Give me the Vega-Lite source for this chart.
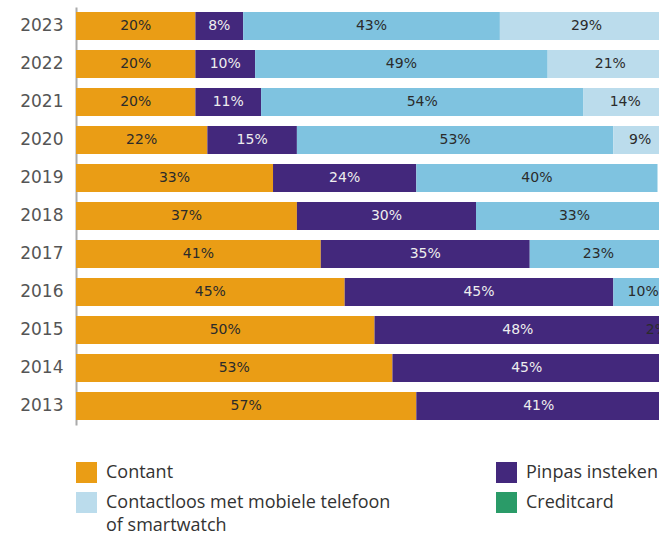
{
  "$schema": "https://vega.github.io/schema/vega-lite/v6.json",
  "width": 583,
  "height": 418,
  "autosize": {"type": "none"},
  "padding": {"left": 76, "top": 7, "right": 0, "bottom": 111},
  "background": "white",
  "config": {"view": {"stroke": null}, "style": {"guide-label": {"lineHeight": 23}}},
  "data": {
    "values": [
      {"jaar": "2023", "cat": "Contant", "pct": 20},
      {"jaar": "2023", "cat": "Pinpas insteken", "pct": 8},
      {"jaar": "2023", "cat": "Contactloos met pinpas", "pct": 43},
      {"jaar": "2023", "cat": "Contactloos met mobiele telefoon of smartwatch", "pct": 29},
      {"jaar": "2022", "cat": "Contant", "pct": 20},
      {"jaar": "2022", "cat": "Pinpas insteken", "pct": 10},
      {"jaar": "2022", "cat": "Contactloos met pinpas", "pct": 49},
      {"jaar": "2022", "cat": "Contactloos met mobiele telefoon of smartwatch", "pct": 21},
      {"jaar": "2021", "cat": "Contant", "pct": 20},
      {"jaar": "2021", "cat": "Pinpas insteken", "pct": 11},
      {"jaar": "2021", "cat": "Contactloos met pinpas", "pct": 54},
      {"jaar": "2021", "cat": "Contactloos met mobiele telefoon of smartwatch", "pct": 14},
      {"jaar": "2020", "cat": "Contant", "pct": 22},
      {"jaar": "2020", "cat": "Pinpas insteken", "pct": 15},
      {"jaar": "2020", "cat": "Contactloos met pinpas", "pct": 53},
      {"jaar": "2020", "cat": "Contactloos met mobiele telefoon of smartwatch", "pct": 9},
      {"jaar": "2019", "cat": "Contant", "pct": 33},
      {"jaar": "2019", "cat": "Pinpas insteken", "pct": 24},
      {"jaar": "2019", "cat": "Contactloos met pinpas", "pct": 40.4},
      {"jaar": "2018", "cat": "Contant", "pct": 37},
      {"jaar": "2018", "cat": "Pinpas insteken", "pct": 30},
      {"jaar": "2018", "cat": "Contactloos met pinpas", "pct": 33},
      {"jaar": "2017", "cat": "Contant", "pct": 41},
      {"jaar": "2017", "cat": "Pinpas insteken", "pct": 35},
      {"jaar": "2017", "cat": "Contactloos met pinpas", "pct": 23},
      {"jaar": "2016", "cat": "Contant", "pct": 45},
      {"jaar": "2016", "cat": "Pinpas insteken", "pct": 45},
      {"jaar": "2016", "cat": "Contactloos met pinpas", "pct": 10},
      {"jaar": "2015", "cat": "Contant", "pct": 50},
      {"jaar": "2015", "cat": "Pinpas insteken", "pct": 48},
      {"jaar": "2015", "cat": "Contactloos met pinpas", "pct": 2},
      {"jaar": "2014", "cat": "Contant", "pct": 53},
      {"jaar": "2014", "cat": "Pinpas insteken", "pct": 45},
      {"jaar": "2013", "cat": "Contant", "pct": 57},
      {"jaar": "2013", "cat": "Pinpas insteken", "pct": 41}
    ]
  },
  "transform": [
    {"calculate": "indexof(['Contant','Pinpas insteken','Contactloos met pinpas','Contactloos met mobiele telefoon of smartwatch','Creditcard'], datum.cat)", "as": "volgorde"},
    {"stack": "pct", "groupby": ["jaar"], "sort": [{"field": "volgorde", "order": "ascending"}], "as": ["x0", "x1"]},
    {"calculate": "min((datum.x0 + datum.x1) / 2, 97.3)", "as": "xmid"},
    {"calculate": "round(datum.pct) + '%'", "as": "lbl"}
  ],
  "encoding": {
    "y": {
      "field": "jaar",
      "type": "ordinal",
      "sort": "descending",
      "scale": {"paddingInner": 0.263, "paddingOuter": 0.13},
      "axis": {
        "title": null,
        "ticks": false,
        "domainColor": "#aaaaaa",
        "domainWidth": 2,
        "labelFont": "DejaVu Sans",
        "labelFontSize": 17,
        "labelColor": "#555555",
        "labelPadding": 13
      }
    }
  },
  "layer": [
    {
      "mark": {"type": "bar", "clip": true},
      "encoding": {
        "x": {"field": "x0", "type": "quantitative", "scale": {"domain": [0, 97.65], "nice": false, "zero": true}, "axis": null},
        "x2": {"field": "x1"},
        "color": {
          "field": "cat",
          "type": "nominal",
          "scale": {
            "domain": ["Contant", "Pinpas insteken", "Contactloos met pinpas", "Contactloos met mobiele telefoon of smartwatch", "Creditcard"],
            "range": ["#ea9d15", "#43287c", "#7fc3e0", "#bbdcec", "#2a9b68"]
          },
          "legend": {
            "title": null,
            "orient": "none",
            "direction": "horizontal",
            "legendX": 0,
            "legendY": 455,
            "columns": 3,
            "columnPadding": 105,
            "rowPadding": 9,
            "symbolType": "square",
            "symbolSize": 441,
            "symbolStrokeWidth": 0,
            "symbolOpacity": 1,
            "labelFont": "Open Sans",
            "labelFontSize": 18,
            "labelColor": "#333333",
            "labelOffset": 9,
            "labelLimit": 500,
            "labelExpr": "datum.label == 'Contactloos met mobiele telefoon of smartwatch' ? ['Contactloos met mobiele telefoon', 'of smartwatch'] : datum.label"
          }
        }
      }
    },
    {
      "mark": {"type": "text", "font": "DejaVu Sans", "fontSize": 14, "baseline": "middle", "align": "center"},
      "encoding": {
        "x": {"field": "xmid", "type": "quantitative"},
        "text": {"field": "lbl"},
        "color": {
          "condition": {"test": "datum.cat == 'Pinpas insteken'", "value": "#eeeeee"},
          "value": "#2b2b2b"
        }
      }
    }
  ]
}
